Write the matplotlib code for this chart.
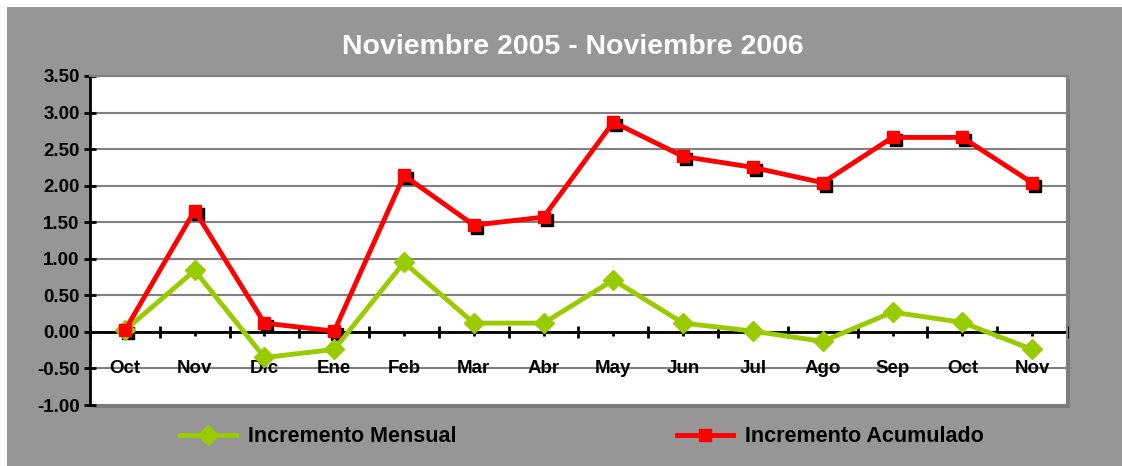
import matplotlib
matplotlib.use("Agg")
import matplotlib.pyplot as plt
import matplotlib.patches as mpatches
import matplotlib.transforms as mtransforms
from matplotlib.lines import Line2D
import numpy as np

categories = ["Oct", "Nov", "Dic", "Ene", "Feb", "Mar", "Abr", "May", "Jun", "Jul", "Ago", "Sep", "Oct", "Nov"]
mensual = [0.02, 0.84, -0.35, -0.24, 0.95, 0.12, 0.12, 0.71, 0.12, 0.01, -0.13, 0.27, 0.13, -0.24]
acumulado = [0.02, 1.66, 0.12, 0.01, 2.14, 1.46, 1.57, 2.87, 2.40, 2.25, 2.04, 2.66, 2.66, 2.04]
yticks = [-1.0, -0.5, 0.0, 0.5, 1.0, 1.5, 2.0, 2.5, 3.0, 3.5]
title = "Noviembre 2005 - Noviembre 2006"
labels = ["Incremento Mensual", "Incremento Acumulado"]

W, H = 1122, 466
plt.rcParams['font.family'] = ['Liberation Sans', 'DejaVu Sans']
fig = plt.figure(figsize=(W / 100, H / 100), dpi=100)
fig.patch.set_facecolor("white")

GRAY = "#969696"
# gray panel
fig.add_artist(mpatches.Rectangle((7 / W, 0), 1 - 7 / W, 1 - 7 / H, transform=fig.transFigure,
                                  facecolor=GRAY, edgecolor="none", zorder=-2))

left, right, top, bottom = 90, 1067, 76, 405
# plot area shadow
fig.add_artist(mpatches.Rectangle(((left + 3) / W, (H - bottom - 3) / H), (right - left) / W, (bottom - top) / H,
                                  transform=fig.transFigure, facecolor="#7a7a7a", edgecolor="none", zorder=-1))

ax = fig.add_axes([left / W, (H - bottom) / H, (right - left) / W, (bottom - top) / H])
ax.set_zorder(1)
ax.set_facecolor("white")
n = len(categories)
x = np.arange(n)
ax.set_xlim(-0.5, n - 0.5)
ax.set_ylim(-1.0, 3.5)

for yv in yticks:
    ax.axhline(yv, color="#808080", lw=1.5, zorder=1)

for s in ["top", "right"]:
    ax.spines[s].set_color("#808080")
    ax.spines[s].set_linewidth(1.5)
ax.spines["left"].set_color("black")
ax.spines["left"].set_linewidth(2)
ax.spines["bottom"].set_position(("data", 0))
ax.spines["bottom"].set_color("black")
ax.spines["bottom"].set_linewidth(2)
ax.spines["bottom"].set_zorder(2)

ax.set_yticks(yticks)
ax.set_yticklabels(["%.2f" % v for v in yticks], fontsize=13.5, fontweight="bold")
ax.tick_params(axis="y", direction="inout", length=9, width=2, pad=3)

ax.set_xticks(np.arange(n + 1) - 0.5)
ax.set_xticklabels([])
ax.tick_params(axis="x", which="major", direction="inout", length=9, width=2)
ax.set_xticks(x, minor=True)
ax.set_xticklabels(categories, minor=True, fontsize=13.5, fontweight="bold")
ax.tick_params(axis="x", which="minor", direction="out", length=3, width=2, pad=17)

# shadows of the markers
shadow = mtransforms.offset_copy(ax.transData, fig=fig, x=3, y=-3, units="dots")
ax.plot(x, acumulado, ls="none", marker="s", ms=9, color="black", transform=shadow, zorder=3)

ax.plot(x, mensual, color="#99cc00", lw=3.5, marker="D", ms=10, zorder=4, solid_joinstyle="miter")
ax.plot(x, acumulado, color="#ff0000", lw=3.5, marker="s", ms=9, zorder=5, solid_joinstyle="miter")

fig.text(573 / W, 1 - 47 / H, title, color="white", fontsize=20.5, fontweight="bold", ha="center", va="center")

h1 = Line2D([], [], color="#99cc00", lw=3.5, marker="D", ms=10)
h2 = Line2D([], [], color="#ff0000", lw=3.5, marker="s", ms=9)
for h, lab, xpos in [(h1, labels[0], 180), (h2, labels[1], 677)]:
    leg = fig.legend([h], [lab], loc="center left", bbox_to_anchor=(xpos / W, 1 - 437 / H),
                     frameon=False, borderpad=0, borderaxespad=0, handlelength=2.6, handletextpad=0.55,
                     prop={"size": 15.5, "weight": "bold"})

fig.savefig("out.png", dpi=100, facecolor=fig.get_facecolor())
